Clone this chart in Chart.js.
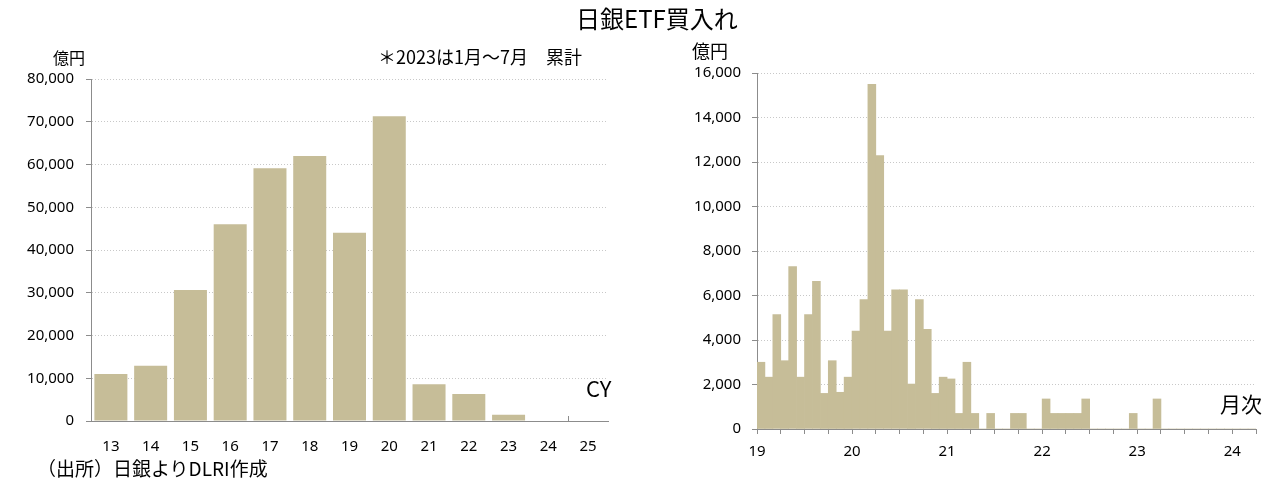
<!DOCTYPE html>
<html>
<head>
<meta charset="utf-8">
<script src="https://cdn.jsdelivr.net/npm/chart.js@4.4.1/dist/chart.umd.min.js"></script>
<style>
  body { margin: 0; width: 1287px; height: 491px; position: relative; background: #fff; overflow: hidden;
         font-family: "Noto Sans CJK JP", "Noto Sans", sans-serif; color: #000; }
  .lbl { position: absolute; white-space: nowrap; line-height: 1; }
  #yearly { position: absolute; left: 0; top: 0; }
  #monthly { position: absolute; left: 640px; top: 0; }
</style>
</head>
<body>
<canvas id="yearly" width="640" height="491"></canvas>
<canvas id="monthly" width="647" height="491"></canvas>

<div class="lbl" style="left:576px;top:6px;font-size:24px;">日銀ETF買入れ</div>
<div class="lbl" style="left:53px;top:49px;font-size:16px;">億円</div>
<div class="lbl" style="left:378px;top:47px;font-size:18px;">＊2023は1月～7月　累計</div>
<div class="lbl" style="left:586px;top:376px;font-size:22px;">CY</div>
<div class="lbl" style="left:37px;top:458px;font-size:19px;">（出所）日銀よりDLRI作成</div>
<div class="lbl" style="left:692px;top:41px;font-size:18px;">億円</div>
<div class="lbl" style="left:1220px;top:393px;font-size:21px;">月次</div>

<script>
// 年次（CY）
const years = ['13', '14', '15', '16', '17', '18', '19', '20', '21', '22', '23', '24', '25'];
const yearlyValues = [11000, 12900, 30650, 46000, 59100, 62000, 44050, 71300, 8600, 6300, 1450, null, null];

// 月次 2019/1 - 2024/3
const monthLabels = [];
for (let y = 2019; y <= 2024; y++) {
  for (let m = 1; m <= 12; m++) monthLabels.push(y + '/' + m);
}
monthLabels.length = 63;
const monthlyValues = [
  3000, 2330, 5140, 3070, 7300, 2330, 5140, 6640, 1600, 3070, 1650, 2330,
  4400, 5820, 15490, 12290, 4400, 6250, 6250, 2020, 5820, 4480, 1600, 2330,
  2250, 700, 3000, 700, 0, 700, 0, 0, 700, 700, 0, 0,
  1350, 700, 700, 700, 700, 1350, 0, 0, 0, 0, 0, 700,
  0, 0, 1350, 0, 0, 0, 0, 0, 0, 0, 0, 0,
  0, 0, 0
];
const yearTickLabels = ['19', '20', '21', '22', '23', '24'];

const BAR = '#c6bd98';
const AXIS = '#8c8c8c';
const GRID = '#c8c8c8';
const tickFont = { family: "'Noto Sans', sans-serif", size: 15 };

Chart.defaults.color = '#000';
Chart.defaults.animation = false;

// Excel の目盛り（12 区切り）を内向きに描く
const innerTick = {
  id: 'innerTick',
  afterDatasetsDraw(chart) {
    const x = chart.scales.x;
    const ctx = chart.ctx;
    const px = Math.round((x.getPixelForValue(11) + x.getPixelForValue(12)) / 2) + 0.5;
    ctx.save();
    ctx.strokeStyle = AXIS;
    ctx.lineWidth = 1;
    ctx.beginPath();
    ctx.moveTo(px, x.top);
    ctx.lineTo(px, x.top - 5);
    ctx.stroke();
    ctx.restore();
  }
};

new Chart(document.getElementById('yearly'), {
  type: 'bar',
  data: {
    labels: years,
    datasets: [{ data: yearlyValues, backgroundColor: BAR, barPercentage: 0.83, categoryPercentage: 1 }]
  },
  options: {
    responsive: false,
    layout: { padding: { left: 0, right: 32, top: 79, bottom: 0 } },
    plugins: { legend: { display: false }, tooltip: { enabled: false } },
    scales: {
      x: {
        grid: { display: false },
        border: { display: true, color: AXIS },
        ticks: { font: tickFont, padding: 9, autoSkip: false, maxRotation: 0 },
        afterFit: s => { s.height = 70; }
      },
      y: {
        min: 0, max: 80000,
        grid: { color: GRID, tickColor: AXIS, tickLength: 5, tickBorderDash: [] },
        border: { display: true, color: AXIS, dash: [1, 2] },
        ticks: { font: tickFont, stepSize: 10000, padding: 12,
                 callback: v => v.toLocaleString('en-US') },
        afterFit: s => { s.width = 91; }
      }
    }
  },
  plugins: [innerTick]
});

new Chart(document.getElementById('monthly'), {
  type: 'bar',
  data: {
    datasets: [{
      data: monthlyValues.map((v, i) => ({ x: i + 0.5, y: v, label: monthLabels[i] })),
      backgroundColor: BAR, barPercentage: 1, categoryPercentage: 1
    }]
  },
  options: {
    responsive: false,
    layout: { padding: { left: 0, right: 31, top: 73, bottom: 0 } },
    plugins: { legend: { display: false }, tooltip: { enabled: false } },
    scales: {
      x: {
        type: 'linear', min: 0, max: monthLabels.length, offset: false,
        grid: { offset: false, drawOnChartArea: false, color: AXIS, tickLength: 5 },
        border: { display: true, color: AXIS },
        afterBuildTicks: s => {
          const t = [];
          for (let v = 0; v <= monthLabels.length; v += 3) t.push({ value: v });
          s.ticks = t;
        },
        ticks: { font: tickFont, padding: 9, autoSkip: false, maxRotation: 0,
                 callback: v => (v % 12 === 0 ? yearTickLabels[v / 12] : '') },
        afterFit: s => { s.height = 62; }
      },
      y: {
        min: 0, max: 16000,
        grid: { color: GRID, tickColor: AXIS, tickLength: 5, tickBorderDash: [] },
        border: { display: true, color: AXIS, dash: [1, 2] },
        ticks: { font: tickFont, stepSize: 2000, padding: 11,
                 callback: v => v.toLocaleString('en-US') },
        afterFit: s => { s.width = 117; }
      }
    }
  }
});
</script>
</body>
</html>
